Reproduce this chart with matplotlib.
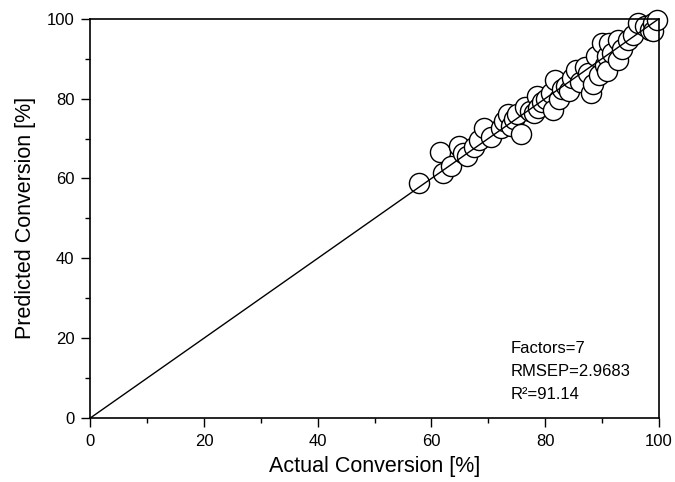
import numpy as np
import matplotlib
matplotlib.use('Agg')
import matplotlib.pyplot as plt
from matplotlib.ticker import MultipleLocator

plt.rcParams['font.family'] = ['Liberation Sans', 'DejaVu Sans']

# actual vs predicted conversion [%]
actual = [57.8, 61.5, 62.1, 63.5, 64.9, 65.5, 66.3, 67.5, 68.3, 69.3,
          70.5, 72.3, 72.8, 73.4, 74.0, 74.6, 75.1, 75.8, 76.5, 77.3,
          78.0, 78.5, 78.7, 79.5, 80.2, 81.0, 81.3, 81.8, 82.5, 83.0,
          83.6, 84.2, 84.7, 85.5, 86.2, 87.0, 87.6, 88.0, 88.4, 89.0,
          89.4, 90.0, 90.5, 90.8, 90.8, 91.2, 91.8, 92.8, 92.8, 93.5,
          94.5, 95.5, 96.3, 97.5, 98.4, 99.0, 99.0, 99.6]
predicted = [58.9, 66.7, 61.4, 63.0, 68.2, 66.4, 65.5, 68.0, 69.7, 72.7,
             70.5, 72.7, 74.5, 76.2, 73.2, 75.0, 76.2, 71.2, 78.0, 77.0,
             76.5, 80.7, 77.7, 79.2, 80.0, 81.5, 77.2, 84.7, 79.8, 82.3,
             83.2, 82.0, 85.2, 87.2, 84.2, 88.0, 86.5, 81.5, 83.7, 90.7,
             86.0, 94.0, 88.5, 90.7, 87.0, 94.0, 91.5, 94.7, 89.7, 92.5,
             94.7, 96.0, 99.0, 98.2, 97.2, 99.0, 97.0, 99.6]

fig = plt.figure(figsize=(6.75, 4.82), dpi=100)
ax = fig.add_axes([0.134, 0.133, 0.842, 0.828])

ax.plot(actual, predicted, 'o', ms=14.5, mfc='white', mec='black',
        mew=1.0, ls='none', zorder=2, clip_on=False)
ax.plot([0, 100], [0, 100], color='black', lw=1.0, zorder=3)

ax.set_xlim(0, 100)
ax.set_ylim(0, 100)
ax.xaxis.set_major_locator(MultipleLocator(20))
ax.xaxis.set_minor_locator(MultipleLocator(10))
ax.yaxis.set_major_locator(MultipleLocator(20))
ax.yaxis.set_minor_locator(MultipleLocator(10))
ax.tick_params(which='both', direction='out', top=False, right=False,
               labelsize=12, width=1.0, pad=5)
ax.tick_params(which='major', length=6.5)
ax.tick_params(which='minor', length=3.6)
for s in ax.spines.values():
    s.set_linewidth(1.2)

ax.set_xlabel('Actual Conversion [%]', fontsize=15.5, labelpad=5)
ax.set_ylabel('Predicted Conversion [%]', fontsize=15.5, labelpad=8)

ax.text(73.9, 17.3, 'Factors=7', fontsize=12, va='center')
ax.text(73.9, 11.5, 'RMSEP=2.9683', fontsize=12, va='center')
ax.text(73.9, 5.8, 'R²=91.14', fontsize=12, va='center')

fig.savefig('out.png', dpi=100)
